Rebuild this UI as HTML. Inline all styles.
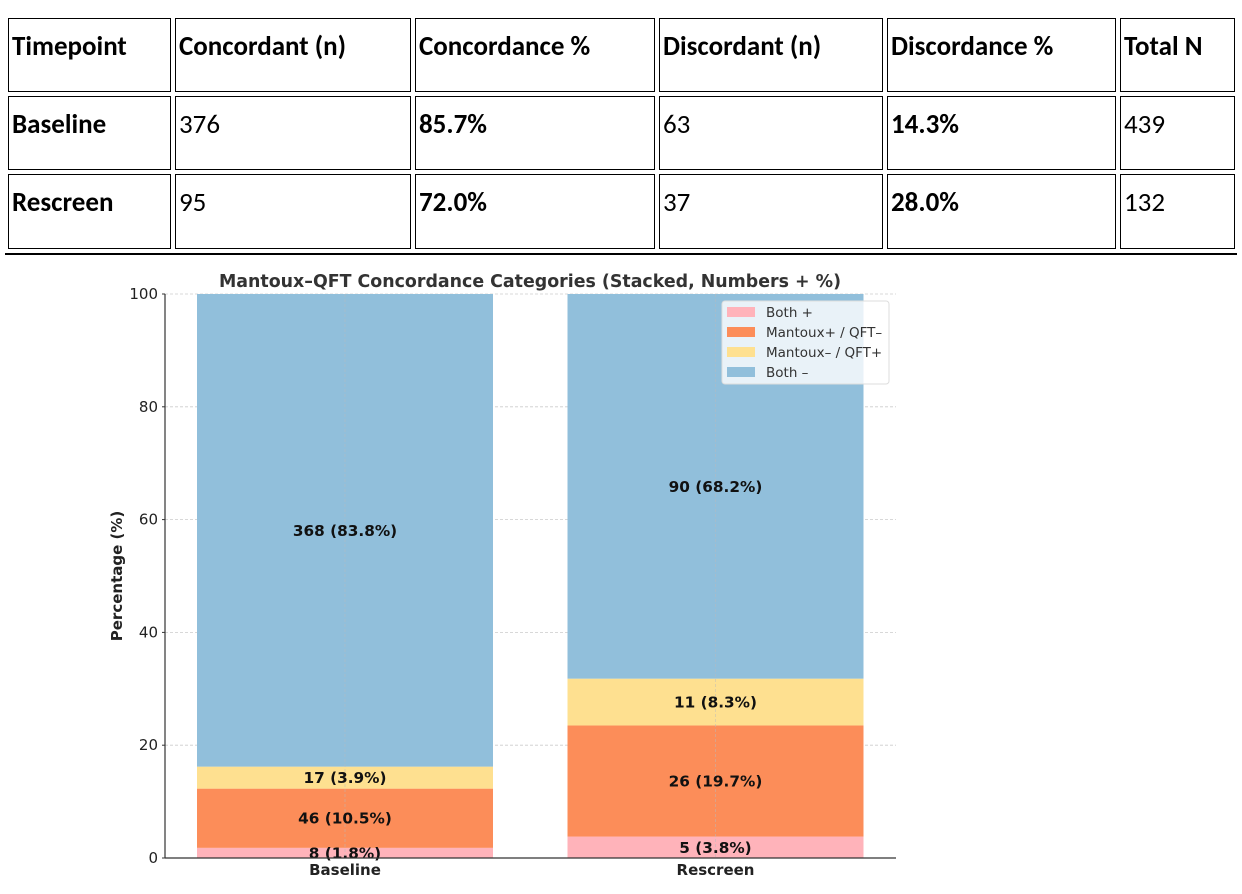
<!DOCTYPE html>
<html><head><meta charset="utf-8"><style>
body{margin:0;background:#fff;width:1242px;height:894px;overflow:hidden;position:relative;font-family:"Liberation Sans",sans-serif}
.c{position:absolute;border:1px solid #000;box-sizing:border-box;font-size:27px;padding:12px 0 0 3px;color:#000;font-family:"Carlito","Liberation Sans",sans-serif;line-height:1.2}
.b{font-weight:bold}
</style></head><body>
<div id="tbl"></div>
<div style="position:absolute;left:5px;top:253px;width:1232px;height:1.5px;background:#000"></div>
<svg id="chart" width="1242" height="894" style="position:absolute;left:0;top:0" font-family="DejaVu Sans, sans-serif"></svg>
<script>
const cols=[[8,171],[175,411],[415,655],[659,883],[887,1116],[1120,1235]];
const rowsY=[[18,92],[96,170],[174,249]];
const tableRows=[["Timepoint","Concordant (n)","Concordance %","Discordant (n)","Discordance %","Total N"],
["Baseline","376","85.7%","63","14.3%","439"],["Rescreen","95","72.0%","37","28.0%","132"]];
const tbl=document.getElementById('tbl');
tableRows.forEach((r,ri)=>r.forEach((t,ci)=>{
 const d=document.createElement('div');d.className='c'+((ri==0||ci==0||ci==2||ci==4)?' b':'');
 
 
 d.style.left=cols[ci][0]+'px';d.style.top=rowsY[ri][0]+'px';
 d.style.width=(cols[ci][1]-cols[ci][0])+'px';d.style.height=(rowsY[ri][1]-rowsY[ri][0])+'px';
 d.textContent=t;tbl.appendChild(d);}));

const categories=["Baseline","Rescreen"];
const seriesNames=["Both +","Mantoux+ / QFT–","Mantoux– / QFT+","Both –"];
const seriesColors=["#ffb3ba","#fc8d59","#fee090","#91bfdb"];
const counts=[[8,5],[46,26],[17,11],[368,90]];
const pcts=[[1.8,3.8],[10.5,19.7],[3.9,8.3],[83.8,68.2]];
const yTicks=[0,20,40,60,80,100];

const svg=document.getElementById('chart');const NS='http://www.w3.org/2000/svg';
function el(tag,attrs,parent,text){const e=document.createElementNS(NS,tag);for(const k in attrs)e.setAttribute(k,attrs[k]);if(text!==undefined)e.textContent=text;(parent||svg).appendChild(e);return e;}
const X0=165,X1=896,Y0=858,Y100=294;
const y=v=>Y0-(Y0-Y100)*v/100;
const barCenters=[345,715.5],barW=296;
const x=i=>barCenters[i];
yTicks.forEach(t=>{if(t>0){const g=el('line',{x1:X0,x2:X1,y1:y(t),y2:y(t),stroke:'#ccc','stroke-dasharray':'3,2','stroke-width':0.8});}});
categories.forEach((c,i)=>{let base=0;pcts.forEach((s,si)=>{const v=s[i];
 const r=el('rect',{x:x(i)-barW/2,y:y(base+v),width:barW,height:y(base)-y(base+v),fill:seriesColors[si]});
 
 
 base+=v;});});
categories.forEach((c,i)=>{const g=el('line',{x1:x(i),x2:x(i),y1:Y100,y2:Y0,stroke:'#bbb','stroke-dasharray':'3,2','stroke-width':0.8,opacity:0.6});});
categories.forEach((c,i)=>{let base=0;pcts.forEach((s,si)=>{const v=s[i];
 const t=el('text',{x:x(i),y:y(base+v/2)+5.5,'text-anchor':'middle','font-size':15.3,'font-weight':'bold',fill:'#111'},svg,counts[si][i]+' ('+v.toFixed(1)+'%)');
 
 
 base+=v;});
 const xl=el('text',{x:x(i),y:875,'text-anchor':'middle','font-size':15,'font-weight':'bold',fill:'#222'},svg,c);
 
 
});
el('line',{x1:X0,x2:X0,y1:Y100,y2:Y0,stroke:'#333','stroke-width':1.2});
el('line',{x1:X0,x2:X1,y1:Y0,y2:Y0,stroke:'#333','stroke-width':1.2});
yTicks.forEach(t=>{el('line',{x1:X0-3,x2:X0,y1:y(t),y2:y(t),stroke:'#333'});
 const l=el('text',{x:X0-7,y:y(t)+5,'text-anchor':'end','font-size':15,fill:'#222'},svg,String(t));
 
 });
const yt=el('text',{x:0,y:0,transform:'translate(122,576) rotate(-90)','text-anchor':'middle','font-size':15,'font-weight':'bold',fill:'#222'},svg,'Percentage (%)');

const tt=el('text',{x:530,y:287,'text-anchor':'middle','font-size':17.4,'font-weight':'bold',fill:'#333'},svg,'Mantoux–QFT Concordance Categories (Stacked, Numbers + %)');

const lg=el('g',{});
el('rect',{x:722,y:301,width:167,height:83,rx:3,fill:'#fff','fill-opacity':0.8,stroke:'#ddd'},lg);
seriesNames.forEach((n,i)=>{const ey=312+i*20;
 el('rect',{x:727,y:ey-5,width:28,height:10,fill:seriesColors[i]},lg);
 const t=el('text',{x:766,y:ey+5,'font-size':13.5,fill:'#333'},lg,n);
 });
</script>
</body></html>
